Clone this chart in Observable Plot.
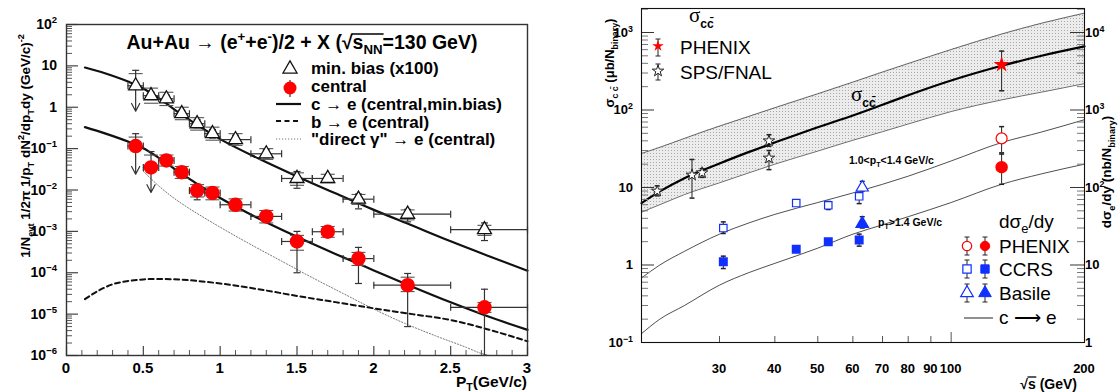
<!DOCTYPE html>
<html><head><meta charset="utf-8">
<script src="https://cdn.jsdelivr.net/npm/d3@7"></script>
<script src="https://cdn.jsdelivr.net/npm/@observablehq/plot@0.6"></script>
<style>
body{margin:0;background:#fff;}
#wrap{display:flex;width:1120px;height:392px;overflow:hidden;}
</style></head><body><div id="wrap"></div>
<script>
// ================= LEFT PANEL DATA =================
const ptCenter = [0.45,0.55,0.65,0.75,0.85,0.95,1.1,1.3,1.5,1.7,1.9,2.22,2.72];
const ptLow    = [0.40,0.50,0.60,0.70,0.80,0.90,1.0,1.2,1.4,1.6,1.8,2.0,2.5];
const ptHigh   = [0.50,0.60,0.70,0.80,0.90,1.00,1.2,1.4,1.6,1.8,2.0,2.5,3.0];
const minBias      = [3.3,1.9,1.6,0.70,0.40,0.23,0.165,0.075,0.019,0.019,0.0060,0.0026,0.0011];
const minBiasLo    = [0.8,1.55,1.3,0.58,0.32,0.18,0.13,0.060,0.011,0.016,0.0035,0.0017,0.0006];
const minBiasHi    = [7.8,2.3,1.95,0.85,0.50,0.29,0.21,0.094,0.028,0.022,0.008,0.0034,0.0016];
const minBiasSysLo = [null,1.25,1.1,0.5,0.28,0.16,0.12,0.055,0.013,0.015,0.0045,0.0019,0.0008];
const minBiasSysHi = [6.5,2.9,2.3,1.0,0.56,0.33,0.23,0.10,0.026,0.024,0.0078,0.0033,0.0014];
const minBiasLimit = [true,false,false,false,false,false,false,false,false,false,false,false,false];
const central      = [0.115,0.035,0.052,0.027,0.0097,0.0085,0.0044,0.0023,0.00057,0.00098,0.00022,0.00005,0.0000146];
const centralLo    = [0.024,0.0087,0.045,0.022,0.0058,0.0062,0.0032,0.0017,0.0001,0.00075,0.000055,0.000005,0.000001];
const centralHi    = [0.23,0.085,0.062,0.033,0.014,0.011,0.006,0.003,0.001,0.00125,0.00041,0.000096,0.00004];
const centralSysLo = [null,null,0.038,0.019,0.0068,0.0058,0.0031,0.0016,0.00035,0.00072,0.00015,3.5e-5,1.1e-5];
const centralSysHi = [0.19,0.07,0.07,0.037,0.0135,0.0118,0.0061,0.0032,0.0008,0.00131,0.00031,7.8e-5,1.9e-5];
const centralLimit = [true,true,false,false,false,false,false,false,false,false,false,false,false];

const curvePt      = [0.12,0.25,0.4,0.5,0.6,0.75,1.0,1.25,1.5,1.75,2.0,2.25,2.5,2.75,3.0];
const cToEMinBias  = [9.12,6.61,4.17,2.85,1.66,0.66,0.170,0.0575,0.0213,0.00832,0.00331,0.00138,0.000575,0.000251,0.000112];
const cToECentral  = [0.331,0.234,0.148,0.102,0.0600,0.0245,0.00640,0.00205,0.000740,0.000285,0.000114,4.60e-5,1.93e-5,8.6e-6,4.17e-6];
const bToEPt       = [0.12,0.2,0.3,0.4,0.5,0.6,0.75,1.0,1.25,1.5,1.75,2.0,2.25,2.5,2.75,3.0];
const bToE         = [2.3e-5,3.55e-5,5.25e-5,6.3e-5,6.9e-5,7.1e-5,6.8e-5,5.5e-5,4.0e-5,2.75e-5,1.95e-5,1.38e-5,1.0e-5,7.2e-6,4.2e-6,2.2e-6];
const gammaPt      = [0.5,0.6,0.7,0.8,0.9,1.0,1.2,1.4,1.6,1.8,2.0,2.2,2.4,2.6,2.7,2.75];
const gammaToE     = [0.0282,0.0126,0.00631,0.00355,0.00209,0.00126,0.000479,0.000191,7.6e-5,3.16e-5,1.32e-5,6.0e-6,3.0e-6,1.58e-6,1.12e-6,1.0e-6];

const leftXTicks = [0,0.5,1,1.5,2,2.5,3];
const leftXTickLabels = ["0","0.5","1","1.5","2","2.5","3"];
const leftYExps = [-6,-5,-4,-3,-2,-1,0,1,2];

// ================= RIGHT PANEL DATA =================
const sqrtS      = [20,22,25,30,35,40,50,60,70,80,100,130,160,200];
const sigmaUpper = [27.5,33,43,62,83,107,162,229,309,398,603,955,1318,1778];
const sigmaMid   = [6.3,8.9,13.2,20.4,28.8,38,60,85,117,155,240,372,501,661];
const sigmaLower = [4.8,6.0,8.1,11.5,15.5,20,29.5,40.7,52.5,66,95.5,135,170,219];
const cToELowPt  = [0.68,1.0,1.5,2.5,3.5,4.5,6.4,8.5,11,14,22,38,52,75];
const cToEHighPt = [0.13,0.2,0.3,0.55,0.8,1.05,1.65,2.5,3.3,4.2,6.4,11,15,20];

const spsS  = [21.7,26.0,27.4,38.8,38.8];
const spsY  = [9.0,14.5,15.5,40,24];
const spsLo = [7.8,7.3,13.5,34,17];
const spsHi = [10.5,23,17.5,48,30];
const phenixSigS = [130], phenixSig = [385], phenixSigLo = [177], phenixSigHi = [575];
const phenixOpenY = [43], phenixOpenLo = [28], phenixOpenHi = [61];
const phenixFillY = [18.3], phenixFillLo = [11], phenixFillHi = [27];
const ccrsS = [30.6,44.7,52.8,62];
const ccrsOpen = [3.0,6.3,5.9,7.7], ccrsOpenLo = [2.55,6.0,5.2,6.2], ccrsOpenHi = [3.6,6.7,6.6,8.5];
const ccrsFill = [1.1,1.6,2.0,2.1], ccrsFillLo = [0.9,1.5,1.85,1.75], ccrsFillHi = [1.3,1.75,2.15,2.5];
const basileS = [63];
const basileOpen = [10], basileOpenLo = [9.0], basileOpenHi = [12];
const basileFill = [3.4], basileFillLo = [3.0], basileFillHi = [4.2];

const rightXTicks = [30,40,50,60,70,80,90,100,200];
const rightXTickLabels = ["30","40","50","60","70","80","90","100","200"];
const rightYLeftExps = [-1,0,1,2,3];

// ================= helpers =================
const FONT = "Liberation Sans, Arial, Helvetica, sans-serif";
const hcap = w => ({draw(ctx){ctx.moveTo(-w,0);ctx.lineTo(w,0);}});
const vcap = h => ({draw(ctx){ctx.moveTo(0,-h);ctx.lineTo(0,h);}});
const decadeMinors = (e0,e1) => { const a=[]; for(let e=e0;e<e1;e++) for(let k=2;k<10;k++) a.push(k*10**e); return a; };
const decades = (e0,e1) => d3.range(e0,e1+1).map(e=>10**e);

function txt(g, x, y, s, opts={}) {
  return g.append("text").attr("x", x).attr("y", y)
    .attr("font-size", opts.size || 15).attr("font-weight", opts.weight || "bold")
    .attr("text-anchor", opts.anchor || "start").attr("fill", opts.fill || "#000")
    .attr("font-family", opts.family || FONT).text(s);
}
function rich(g, x, y, parts, opts={}) {
  const size = opts.size || 15;
  const t = g.append("text").attr("x", x).attr("y", y)
    .attr("font-size", size).attr("font-weight", opts.weight || "bold")
    .attr("text-anchor", opts.anchor || "start").attr("fill", opts.fill || "#000")
    .attr("font-family", opts.family || FONT);
  if (opts.rotate) t.attr("transform", `rotate(${opts.rotate},${x},${y})`);
  let shift = 0;
  for (const p of parts) {
    const [s, kind, o] = typeof p === "string" ? [p, "n", {}] : [p[0], p[1] || "n", p[2] || {}];
    const target = kind === "sup" ? -size*0.42 : kind === "sub" ? size*0.28 : 0;
    const ts = t.append("tspan").text(s).attr("dy", target - shift);
    shift = target;
    if (kind !== "n") ts.attr("font-size", size*0.68);
    if (o.family) ts.attr("font-family", o.family);
    if (o.weight) ts.attr("font-weight", o.weight);
    if (o.size) ts.attr("font-size", o.size);
  }
  return t;
}
function expLabel(e) {
  if (e === 0) return ["1"];
  if (e === 1) return ["10"];
  return ["10", [String(e).replace("-", "\u2212"), "sup"]];
}

// ================= LEFT PLOT =================
const L = {w:560, h:392, ml:66, mr:33, mt:24, mb:37};
const LfW = L.w - L.ml - L.mr, LfH = L.h - L.mt - L.mb;
const mbData = ptCenter.map((x,i)=>({x, xlo:ptLow[i], xhi:ptHigh[i], y:minBias[i], lo:minBiasLo[i], hi:minBiasHi[i], slo:minBiasSysLo[i], shi:minBiasSysHi[i], lim:minBiasLimit[i]}));
const cData  = ptCenter.map((x,i)=>({x, xlo:ptLow[i], xhi:ptHigh[i], y:central[i], lo:centralLo[i], hi:centralHi[i], slo:centralSysLo[i], shi:centralSysHi[i], lim:centralLimit[i]}));
const mbCurve = curvePt.map((x,i)=>({x, y:cToEMinBias[i]}));
const cCurve  = curvePt.map((x,i)=>({x, y:cToECentral[i]}));
const bCurve  = bToEPt.map((x,i)=>({x, y:bToE[i]}));
const gCurve  = gammaPt.map((x,i)=>({x, y:gammaToE[i]}));

function errMarks(data, stroke) {
  const nl = data.filter(d=>!d.lim), lim = data.filter(d=>d.lim);
  return [
    Plot.dot(data.filter(d=>d.slo!=null), {x:"x", y:"slo", symbol:hcap(7), fill:"none", stroke:"#555", strokeWidth:1.1}),
    Plot.dot(data.filter(d=>d.shi!=null), {x:"x", y:"shi", symbol:hcap(7), fill:"none", stroke:"#555", strokeWidth:1.1}),
    Plot.ruleY(data, {y:"y", x1:"xlo", x2:"xhi", stroke, strokeWidth:1.2}),
    Plot.dot(data, {x:"xlo", y:"y", symbol:vcap(3.5), fill:"none", stroke, strokeWidth:1.2}),
    Plot.dot(data, {x:"xhi", y:"y", symbol:vcap(3.5), fill:"none", stroke, strokeWidth:1.2}),
    Plot.ruleX(nl, {x:"x", y1:"lo", y2:"hi", stroke, strokeWidth:1.2, clip:true}),
    Plot.dot(nl, {x:"x", y:"lo", symbol:hcap(3.5), fill:"none", stroke, strokeWidth:1.2, clip:true}),
    Plot.dot(data, {x:"x", y:"hi", symbol:hcap(3.5), fill:"none", stroke, strokeWidth:1.2}),
    Plot.arrow(lim, {x1:"x", y1:"hi", x2:"x", y2:"lo", stroke, strokeWidth:1.2, headLength:11, headAngle:55})
  ];
}

const left = Plot.plot({
  width:L.w, height:L.h, marginLeft:L.ml, marginRight:L.mr, marginTop:L.mt, marginBottom:L.mb,
  x:{domain:[0,3], axis:null},
  y:{type:"log", domain:[1e-6,1e2], axis:null},
  style:{background:"white", fontFamily:FONT},
  marks:[
    Plot.line(gCurve, {x:"x", y:"y", stroke:"#777", strokeWidth:1, strokeDasharray:"1.2,1.8", curve:"monotone-x", clip:true}),
    Plot.line(bCurve, {x:"x", y:"y", stroke:"#111", strokeWidth:2, strokeDasharray:"5,3.5", curve:"monotone-x"}),
    Plot.line(mbCurve, {x:"x", y:"y", stroke:"#111", strokeWidth:2.2, curve:"monotone-x"}),
    Plot.line(cCurve, {x:"x", y:"y", stroke:"#111", strokeWidth:2.2, curve:"monotone-x"}),
    ...errMarks(mbData, "#333"),
    ...errMarks(cData, "#333"),
    Plot.dot(mbData, {x:"x", y:"y", symbol:"triangle", r:5.2, fill:"white", stroke:"#111", strokeWidth:1.3}),
    Plot.dot(cData, {x:"x", y:"y", r:6.5, fill:"#ff0000", stroke:"#ff0000"}),
    Plot.tickY(decades(-6,2), {y:d=>d, insetRight:LfW-12, stroke:"#444", strokeWidth:1.2}),
    Plot.tickY(decadeMinors(-6,2), {y:d=>d, insetRight:LfW-6, stroke:"#555", strokeWidth:1}),
    Plot.tickX(leftXTicks, {x:d=>d, insetTop:LfH-9, stroke:"#444", strokeWidth:1.2}),
    Plot.tickX(d3.range(0,31).map(i=>i/10).filter(v=>Math.round(v*10)%5!==0), {x:d=>d, insetTop:LfH-5, stroke:"#555", strokeWidth:1}),
    Plot.frame({stroke:"#333", strokeWidth:1.4})
  ]
});

// ================= RIGHT PLOT =================
const R = {w:560, h:392, ml:81, mr:36, mt:8, mb:50};
const RfW = R.w - R.ml - R.mr, RfH = R.h - R.mt - R.mb;
const band = sqrtS.map((s,i)=>({s, up:sigmaUpper[i], mid:sigmaMid[i], lo:sigmaLower[i], a:cToELowPt[i], b:cToEHighPt[i]}));
const pts = (S, Y, Lo, Hi) => S.map((s,i)=>({s, y:Y[i], lo:Lo[i], hi:Hi[i]}));
const sps = pts(spsS, spsY, spsLo, spsHi);
const phSig = pts(phenixSigS, phenixSig, phenixSigLo, phenixSigHi);
const phOpen = pts(phenixSigS, phenixOpenY, phenixOpenLo, phenixOpenHi);
const phFill = pts(phenixSigS, phenixFillY, phenixFillLo, phenixFillHi);
const ccOpen = pts(ccrsS, ccrsOpen, ccrsOpenLo, ccrsOpenHi);
const ccFill = pts(ccrsS, ccrsFill, ccrsFillLo, ccrsFillHi);
const baOpen = pts(basileS, basileOpen, basileOpenLo, basileOpenHi);
const baFill = pts(basileS, basileFill, basileFillLo, basileFillHi);
const allErr = [...sps, ...phSig, ...phOpen, ...phFill, ...ccOpen, ...ccFill, ...baOpen, ...baFill];

const right = Plot.plot({
  width:R.w, height:R.h, marginLeft:R.ml, marginRight:R.mr, marginTop:R.mt, marginBottom:R.mb,
  x:{type:"log", domain:[20,200], axis:null},
  y:{type:"log", domain:[0.1,2040], axis:null},
  style:{background:"white", fontFamily:FONT},
  marks:[
    Plot.areaY(band, {x:"s", y1:"lo", y2:"up", fill:"#e2e2e2", curve:"monotone-x"}),
    Plot.line(band, {x:"s", y:"up", stroke:"#444", strokeWidth:0.8, curve:"monotone-x"}),
    Plot.line(band, {x:"s", y:"lo", stroke:"#444", strokeWidth:0.8, curve:"monotone-x"}),
    Plot.line(band, {x:"s", y:"mid", stroke:"#000", strokeWidth:2.2, curve:"monotone-x"}),
    Plot.line(band, {x:"s", y:"a", stroke:"#222", strokeWidth:0.8, curve:"monotone-x"}),
    Plot.line(band, {x:"s", y:"b", stroke:"#222", strokeWidth:0.8, curve:"monotone-x"}),
    Plot.ruleX(allErr, {x:"s", y1:"lo", y2:"hi", stroke:"#222", strokeWidth:1}),
    Plot.dot(allErr, {x:"s", y:"lo", symbol:hcap(2.5), fill:"none", stroke:"#222"}),
    Plot.dot(allErr, {x:"s", y:"hi", symbol:hcap(2.5), fill:"none", stroke:"#222"}),
    Plot.dot(sps, {x:"s", y:"y", symbol:"star", r:3.6, fill:"white", stroke:"#222", strokeWidth:1}),
    Plot.dot(phSig, {x:"s", y:"y", symbol:"star", r:3.6, fill:"#ff0000", stroke:"#ff0000"}),
    Plot.dot(phOpen, {x:"s", y:"y", r:5.5, fill:"white", stroke:"#ff0000", strokeWidth:1.2}),
    Plot.dot(phFill, {x:"s", y:"y", r:5.5, fill:"#ff0000", stroke:"#ff0000"}),
    Plot.dot(ccOpen, {x:"s", y:"y", symbol:"square", r:4.2, fill:"white", stroke:"#1030ff", strokeWidth:1.2}),
    Plot.dot(ccFill, {x:"s", y:"y", symbol:"square", r:4.2, fill:"#1030ff", stroke:"#1030ff"}),
    Plot.dot(baOpen, {x:"s", y:"y", symbol:"triangle", r:4.5, fill:"white", stroke:"#1030ff", strokeWidth:1.2}),
    Plot.dot(baFill, {x:"s", y:"y", symbol:"triangle", r:4.5, fill:"#1030ff", stroke:"#1030ff"}),
    Plot.tickY(decades(-1,3), {y:d=>d, insetRight:RfW-13, stroke:"#333"}),
    Plot.tickY(decadeMinors(-1,3).concat([2000]), {y:d=>d, insetRight:RfW-7, stroke:"#777"}),
    Plot.tickY(decades(-1,3), {y:d=>d, insetLeft:RfW-14, stroke:"#333"}),
    Plot.tickY(decadeMinors(-1,3).concat([2000]), {y:d=>d, insetLeft:RfW-7, stroke:"#777"}),
    Plot.tickX(rightXTicks.filter(v=>v<100), {x:d=>d, insetTop:RfH-6, stroke:"#555"}),
    Plot.tickX([100], {x:d=>d, insetTop:RfH-10, stroke:"#555"}),
    Plot.frame({stroke:"#111", strokeWidth:1.1})
  ]
});

document.getElementById("wrap").append(left, right);

// ================= LEFT TEXT & LEGEND =================
{
  const g = d3.select(left);
  const xs = left.scale("x"), ys = left.scale("y");
  leftXTicks.forEach((v,i)=> txt(g, xs.apply(v), 373, leftXTickLabels[i], {size:15, anchor:"middle"}));
  leftYExps.forEach(e => rich(g, 57, ys.apply(10**e)+5, expLabel(e), {size:14, anchor:"end"}));
  rich(g, 527, 387, ["P", ["T","sub"], "(GeV/c)"], {size:15.5, anchor:"end"});
  rich(g, 30, 146, ["1/N", ["evt","sub"], " 1/2\u03c0 1/p", ["T","sub"], " dN", ["2","sup"], "/dp", ["T","sub"], "dy (GeV/c)", ["-2","sup"]],
       {size:13.5, anchor:"middle", rotate:-90});
  const tt = rich(g, 302, 49, ["Au+Au \u2192 (e", ["+","sup"], "+e", ["-","sup"], ")/2 + X (\u221a", "s", ["NN","sub"], "=130 GeV)"], {size:19.5, anchor:"middle"});
  try {
    const node = tt.node(); const str = node.textContent;
    const i0 = str.indexOf("\u221a"), i1 = str.indexOf("NN")+1;
    const xa = node.getEndPositionOfChar(i0).x - 1, xb = node.getEndPositionOfChar(i1).x + 1;
    g.append("line").attr("x1",xa).attr("x2",xb).attr("y1",34).attr("y2",34).attr("stroke","#000").attr("stroke-width",1.6);
  } catch(e) {}
  const lg = g.append("g");
  lg.append("path").attr("d", d3.symbol(d3.symbolTriangle, Math.PI*5.2*5.2)()).attr("transform","translate(290,69)")
    .attr("fill","white").attr("stroke","#111").attr("stroke-width",1.3);
  lg.append("line").attr("x1",290).attr("x2",290).attr("y1",80).attr("y2",97).attr("stroke","#333").attr("stroke-width",1.2);
  lg.append("circle").attr("cx",290).attr("cy",88).attr("r",6.5).attr("fill","#ff0000");
  lg.append("line").attr("x1",276).attr("x2",301).attr("y1",104).attr("y2",104).attr("stroke","#111").attr("stroke-width",2.2);
  lg.append("line").attr("x1",276).attr("x2",301).attr("y1",121).attr("y2",121).attr("stroke","#111").attr("stroke-width",2).attr("stroke-dasharray","5,3.5");
  lg.append("line").attr("x1",276).attr("x2",301).attr("y1",139).attr("y2",139).attr("stroke","#777").attr("stroke-width",1).attr("stroke-dasharray","1.2,1.8");
  const items = [["min. bias (x100)",74],["central",92],["c \u2192 e (central,min.bias)",110],["b \u2192 e (central)",127.5],["\"direct \u03b3\" \u2192 e (central)",145]];
  items.forEach(([t,y]) => txt(lg, 311, y, t, {size:17}));
}

// ================= RIGHT TEXT & LEGEND =================
{
  const g = d3.select(right);
  const xs = right.scale("x"), ys = right.scale("y");
  const defs = g.insert("defs", ":first-child");
  const pat = defs.append("pattern").attr("id","stip").attr("patternUnits","userSpaceOnUse").attr("width",3).attr("height",3);
  pat.append("rect").attr("width",3).attr("height",3).attr("fill","#ececec");
  pat.append("rect").attr("width",1).attr("height",1).attr("fill","#a9a9a9");
  g.select('g[aria-label="area"] path').attr("fill","url(#stip)");

  rightXTicks.forEach((v,i)=> txt(g, xs.apply(v), 373, rightXTickLabels[i], {size:13, anchor:"middle"}));
  rightYLeftExps.forEach(e => rich(g, 73, ys.apply(10**e)+5, expLabel(e), {size:13, anchor:"end"}));
  rightYLeftExps.forEach(e => rich(g, 525, ys.apply(10**e)+5, expLabel(e+1), {size:13, anchor:"start"}));
  const xt = rich(g, 517, 389, ["\u221as (GeV)"], {size:14, anchor:"end"});
  try {
    const node = xt.node();
    const xa = node.getEndPositionOfChar(0).x - 0.5, xb = node.getEndPositionOfChar(1).x + 0.5;
    g.append("line").attr("x1",xa).attr("x2",xb).attr("y1",377).attr("y2",377).attr("stroke","#000").attr("stroke-width",1.3);
  } catch(e) {}
  rich(g, 54, 63, ["\u03c3", ["c c\u0304","sub"], " (\u03bcb/N", ["binary","sub"], ")"], {size:13, anchor:"middle", rotate:-90});
  rich(g, 551, 172, ["d\u03c3", ["e","sub"], "/dy (nb/N", ["binary","sub"], ")"], {size:13.5, anchor:"middle", rotate:-90});
  const sig = (x,y) => rich(g, x, y, [["\u03c3","n",{family:"Liberation Serif, Times New Roman, serif", weight:"normal"}], ["cc\u0304","sub",{size:12}]], {size:21});
  sig(129, 22); sig(291, 101);
  rich(g, 289, 164, ["1.0<p", ["T","sub"], "<1.4 GeV/c"], {size:10.5});
  rich(g, 318, 226, ["p", ["T","sub"], ">1.4 GeV/c"], {size:10.5});
  const lg = g.append("g");
  const star = d3.symbol(d3.symbolStar, Math.PI*3.6*3.6)();
  const eb = (x,y1,y2) => { lg.append("line").attr("x1",x).attr("x2",x).attr("y1",y1).attr("y2",y2).attr("stroke","#222");
    lg.append("line").attr("x1",x-2.5).attr("x2",x+2.5).attr("y1",y1).attr("y2",y1).attr("stroke","#222");
    lg.append("line").attr("x1",x-2.5).attr("x2",x+2.5).attr("y1",y2).attr("y2",y2).attr("stroke","#222"); };
  eb(98,39,56); lg.append("path").attr("d",star).attr("transform","translate(98,46)").attr("fill","#ff0000");
  eb(98,64,80); lg.append("path").attr("d",star).attr("transform","translate(98,71)").attr("fill","white").attr("stroke","#222");
  txt(lg, 120, 54, "PHENIX", {size:19, weight:"normal"});
  txt(lg, 120, 79, "SPS/FNAL", {size:19, weight:"normal"});
  rich(lg, 439, 228, ["d\u03c3", ["e","sub"], "/dy"], {size:19, weight:"normal"});
  const rows = [["PHENIX",246,"#ff0000","circle"],["CCRS",269,"#1030ff","square"],["Basile",293,"#1030ff","triangle"]];
  rows.forEach(([t,y,c,sym]) => {
    eb(407,y-9,y+9); eb(425,y-9,y+9);
    const type = sym==="circle"?d3.symbolCircle:sym==="square"?d3.symbolSquare:d3.symbolTriangle;
    const p = d3.symbol(type, Math.PI*22)();
    lg.append("path").attr("d",p).attr("transform",`translate(407,${y})`).attr("fill","white").attr("stroke",c).attr("stroke-width",1.2);
    lg.append("path").attr("d",p).attr("transform",`translate(425,${y})`).attr("fill",c).attr("stroke",c);
    txt(lg, 439, y+7, t, {size:19, weight:"normal"});
  });
  lg.append("line").attr("x1",404).attr("x2",433).attr("y1",318).attr("y2",318).attr("stroke","#222").attr("stroke-width",1);
  txt(lg, 439, 324, "c \u27f6 e", {size:19, weight:"normal"});
}
</script></body></html>
